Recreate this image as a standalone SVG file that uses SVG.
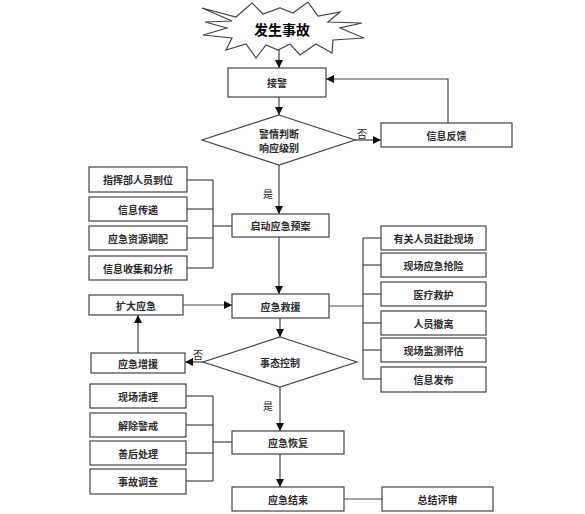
<svg xmlns="http://www.w3.org/2000/svg" width="585" height="514" viewBox="0 0 585 514">
<defs>
<marker id="ah" viewBox="0 0 10 10" refX="10" refY="5" markerWidth="8" markerHeight="8" markerUnits="userSpaceOnUse" orient="auto">
<path d="M0,0 L10,5 L0,10 z" fill="#111"/>
</marker>
<style>
.box{fill:#fff;stroke:#444;stroke-width:1.2}
.dia{fill:#fff;stroke:#444;stroke-width:1.2}
.ln{fill:none;stroke:#444;stroke-width:1.2}
.arr{fill:none;stroke:#444;stroke-width:1.2;marker-end:url(#ah)}
.t{font-family:"Noto Sans CJK SC","Liberation Sans",sans-serif;font-size:10px;font-weight:bold;fill:#2a2a2a;text-anchor:middle;dominant-baseline:central}
.lb{font-family:"Noto Sans CJK SC","Liberation Sans",sans-serif;font-size:10px;fill:#222;text-anchor:middle;dominant-baseline:central}
.big{font-family:"Noto Sans CJK SC","Liberation Sans",sans-serif;font-size:14px;font-weight:bold;fill:#000;text-anchor:middle;dominant-baseline:central}
</style>
</defs>
<rect width="585" height="514" fill="#fff"/>
<g id="connectors">
<line class="arr" x1="279" y1="45" x2="279" y2="68"/>
<line class="arr" x1="279" y1="97" x2="279" y2="115"/>
<line class="arr" x1="355" y1="140" x2="381" y2="140"/>
<polyline class="arr" points="448,123 448,79 326,79"/>
<line class="arr" x1="279" y1="165" x2="279" y2="214"/>
<polyline class="ln" points="187,180 213,180"/>
<polyline class="ln" points="187,209 213,209"/>
<polyline class="ln" points="187,238 213,238"/>
<polyline class="ln" points="187,268 213,268"/>
<line class="ln" x1="213" y1="180" x2="213" y2="268"/>
<line class="ln" x1="213" y1="226" x2="232" y2="226"/>
<line class="arr" x1="279" y1="237" x2="279" y2="294"/>
<line class="arr" x1="183" y1="305" x2="232" y2="305"/>
<line class="arr" x1="138" y1="353" x2="138" y2="315"/>
<line class="arr" x1="280" y1="318" x2="280" y2="337"/>
<line class="arr" x1="203" y1="362" x2="185" y2="362"/>
<line class="ln" x1="329" y1="306" x2="363" y2="306"/>
<line class="ln" x1="363" y1="238" x2="363" y2="379"/>
<line class="ln" x1="363" y1="238" x2="381" y2="238"/>
<line class="ln" x1="363" y1="265" x2="381" y2="265"/>
<line class="ln" x1="363" y1="294" x2="381" y2="294"/>
<line class="ln" x1="363" y1="323" x2="381" y2="323"/>
<line class="ln" x1="363" y1="350" x2="381" y2="350"/>
<line class="ln" x1="363" y1="379" x2="381" y2="379"/>
<line class="arr" x1="280" y1="387" x2="280" y2="431"/>
<line class="ln" x1="186" y1="396" x2="213" y2="396"/>
<line class="ln" x1="186" y1="425" x2="213" y2="425"/>
<line class="ln" x1="186" y1="453" x2="213" y2="453"/>
<line class="ln" x1="186" y1="481" x2="213" y2="481"/>
<line class="ln" x1="213" y1="396" x2="213" y2="481"/>
<line class="ln" x1="213" y1="442" x2="232" y2="442"/>
<line class="arr" x1="280" y1="454" x2="280" y2="487"/>
<line class="ln" x1="344" y1="499" x2="382" y2="499"/>
<text class="lb" x="362" y="133">否</text>
<text class="lb" x="268" y="193">是</text>
<text class="lb" x="198" y="354">否</text>
<text class="lb" x="268" y="405">是</text>
</g>
<g id="start">
<polygon class="dia" points="202,8 236,17 252,3 263,14 280,8 293,13 308,2 318,16 340,12 328,22 362,23 340,28 364,38 333,40 332,53 316,44 300,55 290,44 278,50 266,45 256,58 246,44 226,50 232,38 203,35 227,28 205,22 232,21"/>
<text class="big" x="282" y="29">发生事故</text>
</g>
<g id="jiejing"><rect class="box" x="228" y="68" width="98" height="29"/><text class="t" x="277" y="82.5">接警</text></g>
<g id="judge"><polygon class="dia" points="279,115 355,140 279,165 202,140"/><text class="t" x="279" y="133">警情判断</text><text class="t" x="279" y="147">响应级别</text></g>
<g id="feedback"><rect class="box" x="381" y="123" width="131" height="24"/><text class="t" x="446.5" y="135">信息反馈</text></g>
<g id="l1"><rect class="box" x="89" y="167" width="98" height="25"/><text class="t" x="138" y="179.5">指挥部人员到位</text></g>
<g id="l2"><rect class="box" x="89" y="197" width="98" height="24"/><text class="t" x="138" y="209">信息传递</text></g>
<g id="l3"><rect class="box" x="89" y="226" width="98" height="24"/><text class="t" x="138" y="238">应急资源调配</text></g>
<g id="l4"><rect class="box" x="89" y="256" width="98" height="24"/><text class="t" x="138" y="268">信息收集和分析</text></g>
<g id="qidong"><rect class="box" x="232" y="214" width="97" height="23"/><text class="t" x="280.5" y="225.5">启动应急预案</text></g>
<g id="jiuyuan"><rect class="box" x="232" y="294" width="97" height="24"/><text class="t" x="280.5" y="306">应急救援</text></g>
<g id="kuoda"><rect class="box" x="89" y="295" width="94" height="20"/><text class="t" x="136" y="305">扩大应急</text></g>
<g id="zengyuan"><rect class="box" x="91" y="353" width="94" height="20"/><text class="t" x="138" y="363">应急增援</text></g>
<g id="control"><polygon class="dia" points="280,337 357,362 280,387 203,362"/><text class="t" x="280" y="362">事态控制</text></g>
<g id="r1"><rect class="box" x="381" y="226" width="105" height="24"/><text class="t" x="433.5" y="238">有关人员赶赴现场</text></g>
<g id="r2"><rect class="box" x="381" y="253" width="105" height="24"/><text class="t" x="433.5" y="265">现场应急抢险</text></g>
<g id="r3"><rect class="box" x="381" y="282" width="105" height="24"/><text class="t" x="433.5" y="294">医疗救护</text></g>
<g id="r4"><rect class="box" x="381" y="311" width="105" height="24"/><text class="t" x="433.5" y="323">人员撤离</text></g>
<g id="r5"><rect class="box" x="381" y="338" width="105" height="24"/><text class="t" x="433.5" y="350">现场监测评估</text></g>
<g id="r6"><rect class="box" x="381" y="367" width="105" height="25"/><text class="t" x="433.5" y="379.5">信息发布</text></g>
<g id="b1"><rect class="box" x="90" y="384" width="96" height="24"/><text class="t" x="138" y="396">现场清理</text></g>
<g id="b2"><rect class="box" x="90" y="413" width="96" height="24"/><text class="t" x="138" y="425">解除警戒</text></g>
<g id="b3"><rect class="box" x="90" y="441" width="96" height="24"/><text class="t" x="138" y="453">善后处理</text></g>
<g id="b4"><rect class="box" x="90" y="469" width="96" height="25"/><text class="t" x="138" y="481.5">事故调查</text></g>
<g id="huifu"><rect class="box" x="232" y="431" width="112" height="23"/><text class="t" x="288" y="442.5">应急恢复</text></g>
<g id="jieshu"><rect class="box" x="232" y="487" width="112" height="24"/><text class="t" x="288" y="499">应急结束</text></g>
<g id="review"><rect class="box" x="382" y="487" width="111" height="24"/><text class="t" x="437.5" y="499">总结评审</text></g>
</svg>
